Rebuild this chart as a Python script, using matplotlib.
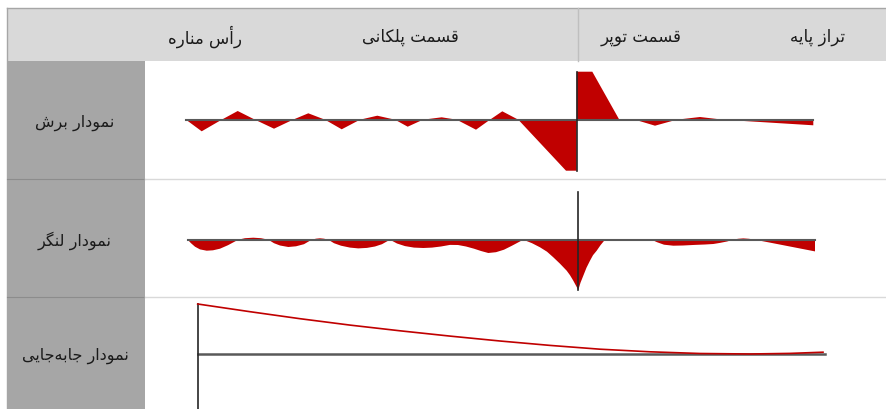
import matplotlib
matplotlib.use("Agg")
import matplotlib.pyplot as plt
from matplotlib.patches import Rectangle

plt.rcParams['font.family'] = ['DejaVu Sans']

# ---------------- Arabic/Persian shaping (presentation forms) ----------------
FORMS = {
    '\u0627': ('\uFE8D', '\uFE8E', None, None),
    '\u0623': ('\uFE83', '\uFE84', None, None),
    '\u0628': ('\uFE8F', '\uFE90', '\uFE91', '\uFE92'),
    '\u062A': ('\uFE95', '\uFE96', '\uFE97', '\uFE98'),
    '\u062C': ('\uFE9D', '\uFE9E', '\uFE9F', '\uFEA0'),
    '\u062F': ('\uFEA9', '\uFEAA', None, None),
    '\u0631': ('\uFEAD', '\uFEAE', None, None),
    '\u0632': ('\uFEAF', '\uFEB0', None, None),
    '\u0633': ('\uFEB1', '\uFEB2', '\uFEB3', '\uFEB4'),
    '\u0634': ('\uFEB5', '\uFEB6', '\uFEB7', '\uFEB8'),
    '\u0642': ('\uFED5', '\uFED6', '\uFED7', '\uFED8'),
    '\u0644': ('\uFEDD', '\uFEDE', '\uFEDF', '\uFEE0'),
    '\u0645': ('\uFEE1', '\uFEE2', '\uFEE3', '\uFEE4'),
    '\u0646': ('\uFEE5', '\uFEE6', '\uFEE7', '\uFEE8'),
    '\u0647': ('\uFEE9', '\uFEEA', '\uFEEB', '\uFEEC'),
    '\u0648': ('\uFEED', '\uFEEE', None, None),
    '\u06CC': ('\uFBFC', '\uFBFD', '\uFBFE', '\uFBFF'),
    '\u067E': ('\uFB56', '\uFB57', '\uFB58', '\uFB59'),
    '\u06A9': ('\uFB8E', '\uFB8F', '\uFB90', '\uFB91'),
    '\u06AF': ('\uFB92', '\uFB93', '\uFB94', '\uFB95'),
}


def shape(s):
    out = []
    for i, c in enumerate(s):
        if c == '\u200C':
            continue
        if c not in FORMS:
            out.append(c)
            continue
        prev = s[i - 1] if i > 0 else None
        nxt = s[i + 1] if i + 1 < len(s) else None
        jp = prev in FORMS and FORMS[prev][2] is not None
        jn = FORMS[c][2] is not None and nxt in FORMS
        iso, fin, ini, med = FORMS[c]
        if jp and jn:
            out.append(med)
        elif jp:
            out.append(fin)
        elif jn:
            out.append(ini)
        else:
            out.append(iso)
    return ''.join(reversed(out))


# ---------------- Data ----------------
header_labels = ['رأس مناره', 'قسمت پلکانی', 'قسمت توپر', 'تراز پایه']
row_labels = ['نمودار برش', 'نمودار لنگر', 'نمودار جابه\u200Cجایی']

# shear diagram: station / value
shear_x = [186, 201.7, 221.7, 237.7, 255, 274, 293, 308.3, 325, 341.7, 360,
           377.3, 395, 407.7, 423, 441.7, 456.7, 476, 490, 502.3, 518.3,
           566, 576.7, 576.7, 592.3, 619.3, 635, 655, 676.7, 700, 723,
           813.3, 813.3]
shear_v = [0, -11.6, 0, 8.7, 0, -9, 0, 6.4, 0, -9.6, 0,
           4, 0, -7, 0, 2.4, 0, -10, 0, 8.4, 0,
           -51, -51, 48, 48, 0, 0, -6, 0, 2.7, 0,
           -5.6, 0]
shear_jump_x = 576.7

# moment diagram: station / value
moment_x = [187.7, 191, 195, 200, 206.7, 213, 220, 228, 238.3,
            245, 253.3, 261, 268.3,
            274, 280, 288.3, 296, 304, 311.7,
            316, 320, 324, 328.3,
            334, 341, 350, 358.3, 367, 375, 382, 390,
            397, 405, 414, 423.3, 432, 441, 450, 458, 466, 474, 481, 488.3,
            496, 504, 512, 523.3,
            532, 540, 547, 553.3, 560, 566.7, 570, 573.3, 576, 578.3,
            580.5, 583.3, 586.5, 590, 593, 596.7, 600.5, 605,
            651.7, 657, 664, 673.3, 683, 695, 705, 713.3, 720, 727, 733.3,
            738, 743.3, 749, 755,
            815, 815]
moment_v = [0, -3.5, -7, -9.7, -11, -10.6, -9, -5.5, 0,
            1.5, 2, 1.5, 0,
            -3.5, -5.8, -7.3, -6.6, -4.5, 0,
            1, 1.4, 1, 0,
            -3.5, -6, -7.9, -8.7, -8.2, -6.8, -4.5, 0,
            -3.8, -6.4, -7.9, -8.3, -7.9, -6.8, -5.2, -5.3, -6.8, -9, -11.3, -13.3,
            -12.5, -10, -6, 0,
            -3.5, -7.6, -12, -17.6, -24, -31, -35.5, -41, -46, -50.3,
            -43, -36, -28, -21, -15.5, -11, -5.5, 0,
            0, -2.5, -5, -6, -5.8, -5.2, -4.8, -4.3, -3.2, -1.8, 0,
            0.9, 1.3, 0.9, 0,
            -11.7, 0]
moment_vline = (578.3, 47.4, -50.3)

# displacement diagram: station / value
disp_x = [197.7, 250, 300, 350, 400, 450, 500, 550, 600, 650, 700, 750,
          790, 823]
disp_v = [50, 42.3, 35.3, 28.9, 23.2, 17.9, 13.0, 8.6, 4.8, 2.2, 0.5, 0,
          0.6, 1.8]
disp_base_end = 825

# ---------------- Figure ----------------
W, H = 886, 410
fig = plt.figure(figsize=(W / 100, H / 100), dpi=100)
bg = fig.add_axes([0, 0, 1, 1])
bg.set_xlim(0, W)
bg.set_ylim(H, 0)
bg.axis('off')

HEAD_TOP, HEAD_BOT = 9, 62
LEFT, COL_R = 7, 145
ROWS = [(62, 180), (180, 298), (298, 410)]

bg.add_patch(Rectangle((LEFT, HEAD_TOP), W - LEFT, HEAD_BOT - HEAD_TOP,
                       facecolor='#d9d9d9', edgecolor='none'))
bg.plot([LEFT, W], [HEAD_TOP, HEAD_TOP], color='#a6a6a6', lw=1)
bg.plot([LEFT, LEFT], [HEAD_TOP, H], color='#a6a6a6', lw=1)
bg.add_patch(Rectangle((LEFT, HEAD_BOT), COL_R - LEFT, H - HEAD_BOT,
                       facecolor='#a6a6a6', edgecolor='none'))
bg.plot([578, 578], [HEAD_TOP, HEAD_BOT], color='#bfbfbf', lw=1)
for (t, b) in ROWS[:-1]:
    bg.plot([LEFT, COL_R], [b, b], color='#8c8c8c', lw=0.8)
    bg.plot([COL_R, W], [b, b], color='#d9d9d9', lw=1)

head_x = [205, 410, 641, 818]
for lab, x in zip(header_labels, head_x):
    bg.text(x, 37, shape(lab), ha='center', va='center', fontsize=12,
            color='#1a1a1a')
for lab, (t, b) in zip(row_labels, ROWS):
    bg.text(75, (t + b) / 2 + 2, shape(lab), ha='center', va='center',
            fontsize=11.5, color='#1a1a1a')

RED = '#C00000'
BASE = '#595959'


def row_axes(t, b, base_y):
    ax = fig.add_axes([COL_R / W, 1 - b / H, (W - COL_R) / W, (b - t) / H])
    ax.set_xlim(COL_R, W)
    ax.set_ylim(-(b - base_y), base_y - t)
    ax.axis('off')
    return ax


# shear
ax1 = row_axes(62, 180, 120.7)
ax1.fill(shear_x, shear_v, color=RED, lw=0)
ax1.plot([shear_x[0], shear_x[-1]], [0, 0], color=BASE, lw=1.5)
ax1.plot([shear_jump_x, shear_jump_x], [min(shear_v), max(shear_v)],
         color='#262626', lw=1.2)

# moment
ax2 = row_axes(180, 298, 240.7)
ax2.fill(moment_x, moment_v, color=RED, lw=0)
ax2.plot([moment_x[0], moment_x[-1]], [0, 0], color=BASE, lw=1.5)
ax2.plot([moment_vline[0]] * 2, moment_vline[1:], color='#262626', lw=1.2)

# displacement
ax3 = row_axes(298, 410, 355)
ax3.plot([disp_x[0], disp_base_end], [0, 0], color=BASE, lw=1.8)
ax3.plot([disp_x[0], disp_x[0]], [disp_v[0], -60], color='#262626', lw=1.2,
         clip_on=False)
ax3.plot(disp_x, disp_v, color=RED, lw=1.2)

fig.savefig('out.png', dpi=100, facecolor='white')
